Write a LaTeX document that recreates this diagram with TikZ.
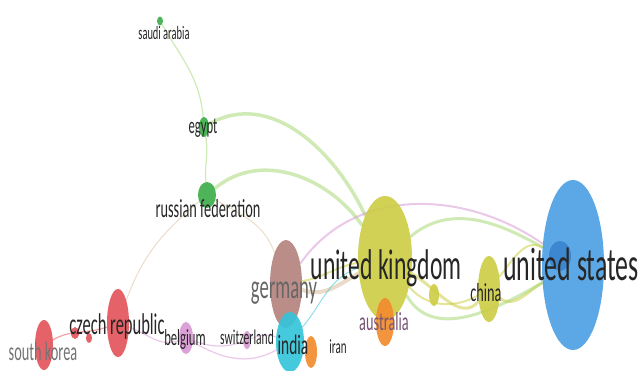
\documentclass[tikz,border=0pt]{standalone}
\usepackage{fontspec}
\newfontfamily\mapfont[FakeStretch=0.55]{Carlito}
\usetikzlibrary{shapes.geometric,backgrounds}
\definecolor{vgreen}{HTML}{3FAE4C}
\definecolor{vlime}{HTML}{A8D878}
\definecolor{vyellow}{HTML}{CDCD48}
\definecolor{vblue}{HTML}{4E9FE3}
\definecolor{vdblue}{HTML}{3A84CF}
\definecolor{vred}{HTML}{E3555B}
\definecolor{vpink}{HTML}{D99AD4}
\definecolor{vcyan}{HTML}{35C4D9}
\definecolor{vorange}{HTML}{F28C2E}
\definecolor{vbrown}{HTML}{B5837E}
\definecolor{vtan}{HTML}{D8C09A}
\begin{document}
\begin{tikzpicture}[x=1pt,y=-1pt]
        \useasboundingbox (0,0) rectangle (642,370);
        \begin{scope}[every node/.style={ellipse,inner sep=0pt,draw=none,fill opacity=0.92}]
        \node[fill=vgreen,minimum width=6,minimum height=9] (saudi) at (160,21) {};
        \node[fill=vgreen,minimum width=10,minimum height=20] (egypt) at (204,127) {};
        \node[fill=vgreen,minimum width=18,minimum height=26] (russia) at (207,195) {};
        \node[fill=vyellow,minimum width=54,minimum height=124] (uk) at (385,258) {};
        \node[fill=vblue,minimum width=62,minimum height=170] (us) at (573,265) {};
        \node[fill=vdblue,minimum width=22,minimum height=30] (us2) at (560,256) {};
        \node[fill=vyellow,minimum width=22,minimum height=66] (china) at (489,289) {};
        \node[fill=vyellow,minimum width=10,minimum height=22] (yel) at (434,295) {};
        \node[fill=vbrown,minimum width=32,minimum height=88] (germany) at (286,284) {};
        \node[fill=vcyan,minimum width=28,minimum height=60] (india) at (290,342) {};
        \node[fill=vorange,minimum width=12,minimum height=32] (orange) at (311,352) {};
        \node[fill=vorange,minimum width=18,minimum height=48] (australia) at (385,322) {};
        \node[fill=vred,minimum width=22,minimum height=68] (czech) at (118,323) {};
        \node[fill=vred,minimum width=8,minimum height=12] (red1) at (75,333) {};
        \node[fill=vred,minimum width=6,minimum height=10] (red2) at (89,338) {};
        \node[fill=vred,minimum width=18,minimum height=50] (korea) at (44,345) {};
        \node[fill=vpink,minimum width=14,minimum height=32] (belgium) at (186,338) {};
        \node[fill=vpink,minimum width=8,minimum height=18] (swiss) at (247,340) {};
        \end{scope}
        \begin{scope}[on background layer,every edge/.style={draw,line cap=round,opacity=0.55}]
        \path (saudi) edge[vlime,line width=1.2,out=-60,in=95] (egypt)
              (egypt) edge[vlime,line width=1.2,out=-80,in=95] (russia)
              (egypt) edge[vlime,line width=3.5,out=30,in=115] (uk)
              (russia) edge[vlime,line width=3.5,out=40,in=125] (uk)
              (russia) edge[vtan,line width=1,out=-140,in=70] (czech)
              (russia) edge[vtan,line width=1,out=-30,in=110] (germany)
              (uk) edge[vlime,line width=3,out=40,in=150] (us)
              (germany) edge[vpink,line width=2,out=55,in=145] (us)
              (uk) edge[vyellow,line width=3,out=-30,in=-130] (china)
              (uk) edge[vyellow,line width=2,out=-50,in=-150] (china)
              (china) edge[vyellow,line width=3,out=-40,in=-150] (us)
              (uk) edge[vlime,line width=3,out=-60,in=-150] (us)
              (china) edge[vyellow,line width=2,out=50,in=150] (us)
              (germany) edge[vtan,line width=4,out=-20,in=-150] (uk)
              (germany) edge[vyellow,line width=2,out=10,in=-170] (uk)
              (korea) edge[vred,line width=1.2,out=30,in=-160] (czech)
              (czech) edge[vpink,line width=1.2,out=-20,in=-160] (belgium)
              (belgium) edge[vpink,line width=1.2,out=-20,in=-160] (swiss)
              (belgium) edge[vpink,line width=1.2,out=-30,in=-150] (india)
              (swiss) edge[vpink,line width=1,out=20,in=160] (india)
              (india) edge[vcyan,line width=1,out=50,in=-160] (uk);
        \end{scope}
        \begin{scope}[every node/.style={inner sep=0pt,text=black!85}]
        \node[font=\mapfont\fontsize{19}{19}\selectfont] (saudil) at (164,33) {saudi arabia};
        \node[font=\mapfont\fontsize{23}{23}\selectfont] (egyptl) at (203,128) {egypt};
        \node[font=\mapfont\fontsize{26}{26}\selectfont] (russial) at (208,209) {russian federation};
        \node[font=\mapfont\fontsize{43}{43}\selectfont] (ukl) at (386,268) {united kingdom};
        \node[font=\mapfont\fontsize{47}{47}\selectfont] (usl) at (571,264) {united states};
        \node[font=\mapfont\fontsize{26}{26}\selectfont] (chinal) at (486,293) {china};
        \node[font=\mapfont\fontsize{34}{34}\selectfont,text=black!60] (germanyl) at (284,293) {germany};
        \node[font=\mapfont\fontsize{28}{28}\selectfont] (indial) at (293,345) {india};
        \node[font=\mapfont\fontsize{20}{20}\selectfont] (iranl) at (338,347) {iran};
        \node[font=\mapfont\fontsize{26}{26}\selectfont,text=black!45!vpink] (australial) at (384,322) {australia};
        \node[font=\mapfont\fontsize{30}{30}\selectfont] (czechl) at (117,326) {czech republic};
        \node[font=\mapfont\fontsize{26}{26}\selectfont,text=black!55] (koreal) at (43,352) {south korea};
        \node[font=\mapfont\fontsize{23}{23}\selectfont] (belgiuml) at (185,339) {belgium};
        \node[font=\mapfont\fontsize{21}{21}\selectfont] (swissl) at (247,337) {switzerland};
        \end{scope}
        \end{tikzpicture}
\end{document}
